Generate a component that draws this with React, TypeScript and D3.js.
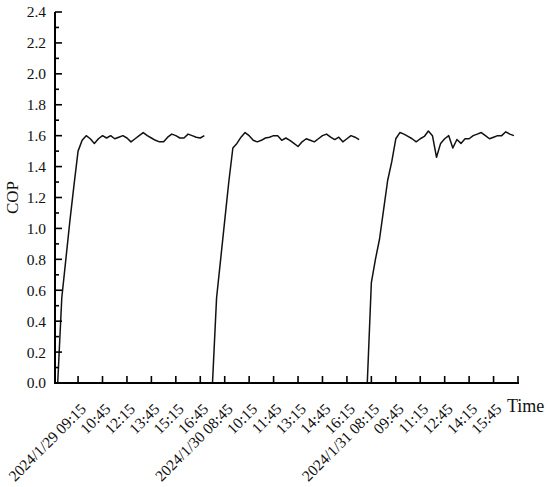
import React from "react";
import * as d3 from "d3";

// COP values, one point every 15 minutes from 08:00 to 17:00 each day
const day1: number[] = [
  0, 0.55, 0.8, 1.05, 1.28, 1.5, 1.57, 1.6, 1.58, 1.55, 1.58, 1.6, 1.585, 1.6, 1.58, 1.59,
  1.6, 1.585, 1.56, 1.58, 1.6, 1.62, 1.6, 1.585, 1.57, 1.56, 1.56, 1.59, 1.61, 1.6, 1.585,
  1.585, 1.61, 1.6, 1.59, 1.585, 1.6,
];
const day2: number[] = [
  0, 0.55, 0.8, 1.05, 1.3, 1.52, 1.55, 1.59, 1.62, 1.6, 1.57, 1.56, 1.57, 1.585, 1.59, 1.6,
  1.6, 1.57, 1.585, 1.57, 1.55, 1.53, 1.56, 1.58, 1.57, 1.56, 1.58, 1.6, 1.61, 1.59, 1.575,
  1.59, 1.56, 1.58, 1.6, 1.59, 1.575,
];
const day3: number[] = [
  0, 0.65, 0.8, 0.93, 1.12, 1.31, 1.43, 1.58, 1.62, 1.61, 1.595, 1.58, 1.56, 1.58, 1.595, 1.63,
  1.6, 1.46, 1.55, 1.58, 1.6, 1.52, 1.575, 1.55, 1.58, 1.58, 1.6, 1.61, 1.62, 1.6, 1.58,
  1.59, 1.6, 1.6, 1.625, 1.61, 1.6,
];
// category index where each day starts (one empty slot between days)
const dayStarts: number[] = [0, 38, 76];

const tickLabels: string[] = [
  "2024/1/29 09:15", "10:45", "12:15", "13:45", "15:15", "16:45",
  "2024/1/30 08:45", "10:15", "11:45", "13:15", "14:45", "16:15",
  "2024/1/31 08:15", "09:45", "11:15", "12:45", "14:15", "15:45", "",
];
const firstTickIndex = 5;
const tickEvery = 6;
const lastIndex = 113;

const yMajor: number[] = [0, 0.2, 0.4, 0.6, 0.8, 1.0, 1.2, 1.4, 1.6, 1.8, 2.0, 2.2, 2.4];
const yMinor: number[] = [0.1, 0.3, 0.5, 0.7, 0.9, 1.1, 1.3, 1.5, 1.7, 1.9, 2.1, 2.3];

const FONT = "'Liberation Serif', 'Times New Roman', serif";

export default function App() {
  const W = 550;
  const H = 487;
  const axisLeft = 55;
  const axisRight = 518;
  const yTop = 12;
  const yBottom = 383;

  const x = d3.scaleLinear().domain([0, lastIndex]).range([57.7, axisRight]);
  const y = d3.scaleLinear().domain([0, 2.4]).range([yBottom, yTop]);

  const line = d3
    .line<[number, number]>()
    .x((d) => x(d[0]))
    .y((d) => y(d[1]));

  const days = [day1, day2, day3];
  const paths = days.map((vals, di) =>
    line(vals.map((v, i) => [dayStarts[di] + i, v] as [number, number]))
  );

  const ticks = tickLabels.map((lab, k) => ({ idx: firstTickIndex + k * tickEvery, lab }));

  return (
    <svg
      width={W}
      height={H}
      style={{ position: "absolute", left: 0, top: 0, background: "#fff" }}
      fontFamily={FONT}
    >
      <rect width={W} height={H} fill="#fff" />
      {paths.map((p, i) => (
        <path key={i} d={p || ""} fill="none" stroke="#111" strokeWidth={1.5} strokeLinejoin="round" />
      ))}
      {/* Y axis */}
      <line x1={axisLeft} x2={axisLeft} y1={yTop} y2={yBottom + 1} stroke="#000" strokeWidth={2} />
      {yMajor.map((v) => (
        <g key={"ym" + v}>
          <line x1={axisLeft} x2={axisLeft + 7} y1={y(v)} y2={y(v)} stroke="#000" strokeWidth={1.6} />
          <text x={46} y={y(v)} dy="0.35em" textAnchor="end" fontSize={15.5} fill="#111">
            {d3.format(".1f")(v)}
          </text>
        </g>
      ))}
      {yMinor.map((v) => (
        <line key={"yn" + v} x1={axisLeft} x2={axisLeft + 4} y1={y(v)} y2={y(v)} stroke="#000" strokeWidth={1.6} />
      ))}
      <text
        transform={`translate(18,${(yTop + yBottom) / 2}) rotate(-90)`}
        textAnchor="middle"
        fontSize={17}
        fill="#111"
      >
        COP
      </text>
      {/* X axis */}
      <line x1={axisLeft - 1} x2={axisRight + 1} y1={yBottom} y2={yBottom} stroke="#000" strokeWidth={2} />
      {ticks.map((t) => (
        <g key={"xt" + t.idx}>
          <line x1={x(t.idx)} x2={x(t.idx)} y1={yBottom} y2={yBottom - 7} stroke="#000" strokeWidth={1.6} />
          {t.lab && (
            <text
              transform={`translate(${x(t.idx) + 9},${yBottom + 27}) rotate(-45)`}
              textAnchor="end"
              fontSize={15.5}
              fill="#111"
            >
              {t.lab}
            </text>
          )}
        </g>
      ))}
      <text x={507} y={412} fontSize={18} fill="#111">
        Time
      </text>
    </svg>
  );
}
